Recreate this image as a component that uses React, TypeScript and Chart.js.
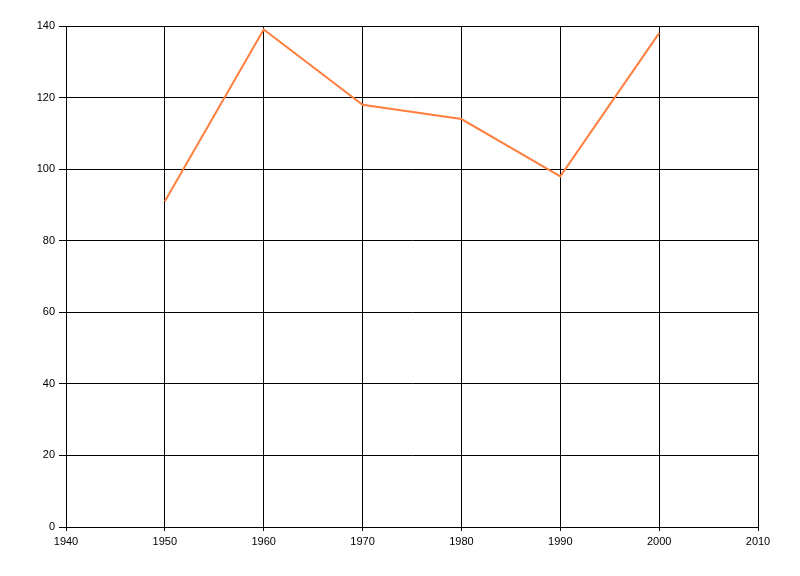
import React, { useEffect, useRef } from "react";
import { Chart, registerables } from "chart.js";

Chart.register(...registerables);

const years = [1950, 1960, 1970, 1980, 1990, 2000];
const values = [91, 139, 118, 114, 98, 138];
const xTicks = [1940, 1950, 1960, 1970, 1980, 1990, 2000, 2010];
const yTicks = [0, 20, 40, 60, 80, 100, 120, 140];

export default function App() {
  const ref = useRef<HTMLCanvasElement | null>(null);
  useEffect(() => {
    if (!ref.current) return;
    const font = { family: "'Liberation Sans', Arial, sans-serif", size: 11 };
    const chart = new Chart(ref.current, {
      type: "line",
      data: {
        datasets: [
          {
            data: years.map((x, i) => ({ x, y: values[i] })),
            borderColor: "rgb(255,127,63)",
            borderWidth: 2,
            pointRadius: 0,
            tension: 0,
            fill: false,
          },
        ],
      },
      options: {
        responsive: false,
        animation: false,
        layout: { padding: { top: 26, right: 42, left: 0, bottom: 0 } },
        plugins: { legend: { display: false }, tooltip: { enabled: false } },
        scales: {
          x: {
            type: "linear",
            min: xTicks[0],
            max: xTicks[xTicks.length - 1],
            afterBuildTicks: (s: any) => {
              s.ticks = xTicks.map((v) => ({ value: v }));
            },
            afterFit: (s: any) => {
              s.height = 49;
            },
            grid: { color: "#000", lineWidth: 1, tickLength: 4, drawTicks: true },
            border: { color: "#000", width: 1 },
            ticks: { color: "#000", font, padding: 4, maxRotation: 0, autoSkip: false, callback: (v: any) => String(v) },
          },
          y: {
            type: "linear",
            min: yTicks[0],
            max: yTicks[yTicks.length - 1],
            afterBuildTicks: (s: any) => {
              s.ticks = yTicks.map((v) => ({ value: v }));
            },
            afterFit: (s: any) => {
              s.width = 66;
            },
            grid: { color: "#000", lineWidth: 1, tickLength: 7, drawTicks: true },
            border: { color: "#000", width: 1 },
            ticks: { color: "#000", font, padding: 4, autoSkip: false, callback: (v: any) => String(v) },
          },
        },
      },
      plugins: [
        {
          id: "frame",
          afterDraw: (c: any) => {
            const { ctx, chartArea: a } = c;
            ctx.save();
            ctx.strokeStyle = "#000";
            ctx.lineWidth = 1;
            ctx.strokeRect(Math.round(a.left) + 0.5, Math.round(a.top) + 0.5, Math.round(a.right - a.left), Math.round(a.bottom - a.top));
            ctx.restore();
          },
        },
      ],
    } as any);
    return () => chart.destroy();
  }, []);
  return (
    <div style={{ position: "absolute", left: 0, top: 0, width: 800, height: 576, background: "#fff" }}>
      <canvas ref={ref} width={800} height={576} style={{ display: "block" }} />
    </div>
  );
}
